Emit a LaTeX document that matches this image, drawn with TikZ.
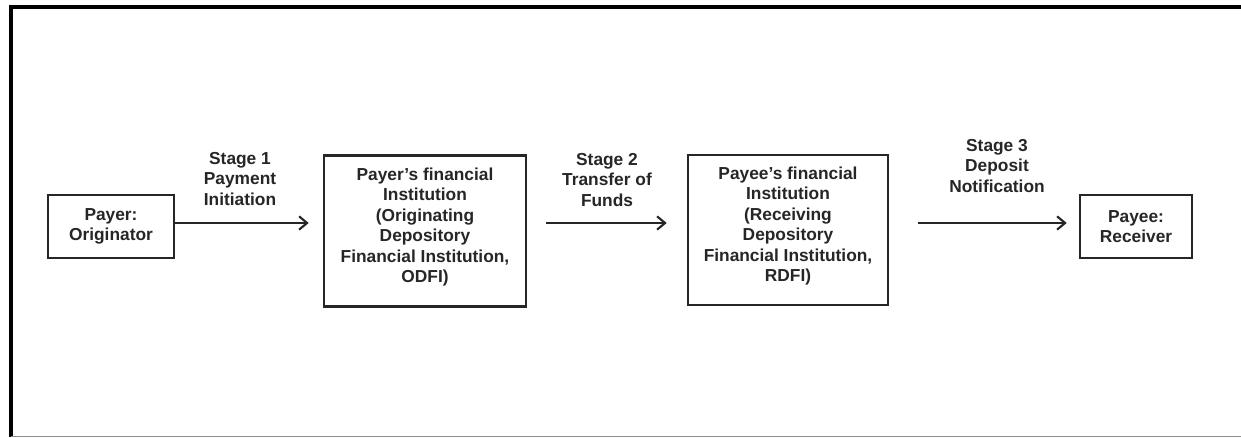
\documentclass[tikz,border=0pt]{standalone}
\usepackage{fontspec}
\setmainfont{Liberation Sans}
\usetikzlibrary{arrows.meta}
\begin{document}
\begin{tikzpicture}[x=0.75pt,y=-0.75pt,
  box/.style={draw=black!85,line width=1.9pt,fill=white,inner sep=0pt},
  lbl/.style={align=center,font=\fontsize{13}{15.4}\selectfont\bfseries,text=black!85},
  flow/.style={draw=black!85,line width=2pt,-{Straight Barb[length=6pt,width=10pt,line width=1.6pt]}}]
\useasboundingbox (0,0) rectangle (1241,438);
% frame
\draw[line width=3pt,black] (11,437) -- (11,7) -- (1241,7);
\draw[line width=1pt,black!45] (11,436.5) -- (1241,436.5);
% boxes
\node[box,minimum width=126*0.75pt,minimum height=63*0.75pt] (payer) at (111,226.5) {};
\node[lbl] (payert) at (111,226.5) {Payer:\\Originator};
\node[box,minimum width=202*0.75pt,minimum height=151*0.75pt] (odfi) at (425,231) {};
\node[lbl] (odfit) at (425,227) {Payer's financial\\Institution\\(Originating\\Depository\\Financial Institution,\\ODFI)};
\node[box,minimum width=200*0.75pt,minimum height=150*0.75pt] (rdfi) at (788,230) {};
\node[lbl] (rdfit) at (788,226) {Payee's financial\\Institution\\(Receiving\\Depository\\Financial Institution,\\RDFI)};
\node[box,minimum width=112*0.75pt,minimum height=63*0.75pt] (payee) at (1136,226.5) {};
\node[lbl] (payeet) at (1136,226.5) {Payee:\\Receiver};
% arrows
\draw[flow,shorten >=14*0.75pt] (payer.east |- 0,223) -- (odfi.west |- 0,223);
\draw[flow,shorten <=19*0.75pt,shorten >=20*0.75pt] (odfi.east |- 0,223) -- (rdfi.west |- 0,223);
\draw[flow,shorten <=29*0.75pt,shorten >=12*0.75pt] (rdfi.east |- 0,223) -- (payee.west |- 0,223);
% stage labels
\node[lbl] (s1) at (240,179) {Stage 1\\Payment\\Initiation};
\node[lbl] (s2) at (607,180) {Stage 2\\Transfer of\\Funds};
\node[lbl] (s3) at (997,166) {Stage 3\\Deposit\\Notification};
\end{tikzpicture}
\end{document}
